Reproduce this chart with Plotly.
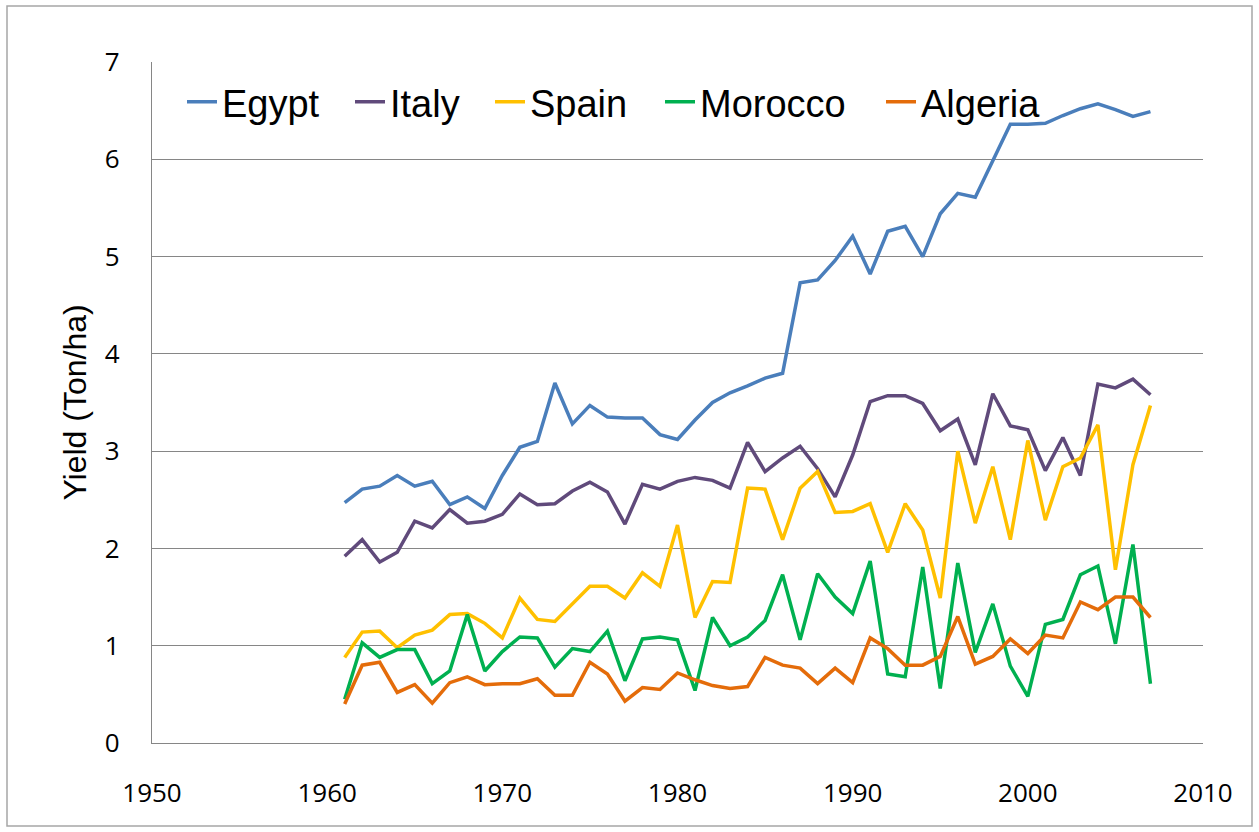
import plotly.graph_objects as go

years = list(range(1961, 2008))

egypt = [2.47, 2.61, 2.64, 2.75, 2.64, 2.69, 2.45, 2.53, 2.41, 2.75,
         3.04, 3.10, 3.70, 3.28, 3.47, 3.35, 3.34, 3.34, 3.17, 3.12,
         3.32, 3.50, 3.60, 3.67, 3.75, 3.80, 4.73, 4.76, 4.96, 5.21,
         4.82, 5.26, 5.31, 5.00, 5.44, 5.65, 5.61, 5.99, 6.36, 6.36,
         6.37, 6.45, 6.52, 6.57, 6.51, 6.44, 6.49]
italy = [1.92, 2.09, 1.86, 1.96, 2.28, 2.21, 2.40, 2.26, 2.28, 2.35,
         2.56, 2.45, 2.46, 2.59, 2.68, 2.58, 2.25, 2.66, 2.61, 2.69,
         2.73, 2.70, 2.62, 3.09, 2.79, 2.93, 3.05, 2.82, 2.53, 2.96,
         3.51, 3.57, 3.57, 3.49, 3.21, 3.33, 2.86, 3.59, 3.26, 3.22,
         2.80, 3.14, 2.75, 3.69, 3.65, 3.74, 3.58]
spain = [0.88, 1.14, 1.15, 0.98, 1.11, 1.16, 1.32, 1.33, 1.23, 1.08,
         1.49, 1.27, 1.25, 1.43, 1.61, 1.61, 1.49, 1.75, 1.61, 2.24,
         1.29, 1.66, 1.65, 2.62, 2.61, 2.09, 2.62, 2.79, 2.37, 2.38,
         2.46, 1.96, 2.46, 2.19, 1.49, 3.00, 2.26, 2.84, 2.09, 3.11,
         2.29, 2.84, 2.93, 3.27, 1.78, 2.86, 3.47]
morocco = [0.45, 1.03, 0.88, 0.96, 0.96, 0.61, 0.74, 1.32, 0.74, 0.94,
           1.09, 1.08, 0.78, 0.97, 0.94, 1.15, 0.64, 1.07, 1.09, 1.06,
           0.54, 1.29, 1.00, 1.09, 1.26, 1.73, 1.06, 1.74, 1.50, 1.33,
           1.87, 0.71, 0.68, 1.81, 0.56, 1.85, 0.93, 1.43, 0.79, 0.48,
           1.22, 1.27, 1.73, 1.82, 1.02, 2.04, 0.61]
algeria = [0.40, 0.80, 0.83, 0.52, 0.60, 0.41, 0.62, 0.68, 0.60, 0.61,
           0.61, 0.66, 0.49, 0.49, 0.83, 0.71, 0.43, 0.57, 0.55, 0.72,
           0.65, 0.59, 0.56, 0.58, 0.88, 0.80, 0.77, 0.61, 0.77, 0.62,
           1.08, 0.97, 0.80, 0.80, 0.89, 1.30, 0.81, 0.89, 1.07, 0.92,
           1.11, 1.08, 1.45, 1.37, 1.50, 1.50, 1.29]

series_names = ["Egypt", "Italy", "Spain", "Morocco", "Algeria"]
series_values = [egypt, italy, spain, morocco, algeria]
colors = ["#4A7EBB", "#604A7B", "#FFC000", "#00B050", "#E46C0A"]

x_ticks = [1950, 1960, 1970, 1980, 1990, 2000, 2010]
y_ticks = [0, 1, 2, 3, 4, 5, 6, 7]

# layout geometry (pixels)
W, H = 1259, 832
ML, MR, MT, MB = 152, 56, 62, 89
PW = W - ML - MR
PH = H - MT - MB
legend_px = [182, 350, 490, 660, 881]
legend_keys = ["legend", "legend2", "legend3", "legend4", "legend5"]

fig = go.Figure()
for name, vals, col, lk in zip(series_names, series_values, colors, legend_keys):
    fig.add_trace(go.Scatter(
        x=years, y=vals, name=name, mode="lines",
        line=dict(color=col, width=3.5),
        legend=lk,
    ))

leg_font = dict(family="Liberation Sans, Arial, sans-serif", size=38, color="#000000")
layout_legends = {}
for lk, px in zip(legend_keys, legend_px):
    layout_legends[lk] = dict(
        x=(px - ML) / PW, xanchor="left",
        y=(743 - 102) / PH, yanchor="middle",
        orientation="h", bgcolor="rgba(0,0,0,0)", borderwidth=0,
        font=leg_font,
    )

fig.update_layout(
    width=W, height=H,
    margin=dict(l=ML, r=MR, t=MT, b=MB, autoexpand=False),
    paper_bgcolor="white", plot_bgcolor="white",
    showlegend=True,
    **layout_legends,
    xaxis=dict(
        range=[1950, 2010], tickvals=x_ticks, ticktext=[str(v) for v in x_ticks],
        showgrid=False, zeroline=False, showline=True, linecolor="#868686", linewidth=1.3,
        ticks="", tickfont=dict(family="Open Sans, sans-serif", size=26, color="#000000"),
        ticklabelstandoff=27,
    ),
    yaxis=dict(
        range=[0, 7], tickvals=y_ticks,
        showgrid=True, gridcolor="#868686", gridwidth=1.3,
        zeroline=False, showline=True, linecolor="#868686", linewidth=1.3,
        ticks="", tickfont=dict(family="Open Sans, sans-serif", size=26, color="#000000"),
        ticklabelstandoff=26,
        title=dict(text="Yield (Ton/ha)", standoff=8,
                   font=dict(family="Liberation Sans, Arial, sans-serif", size=32, color="#000000")),
    ),
)

# outer chart border
fig.add_shape(type="rect", xref="paper", yref="paper",
              x0=(7 - ML) / PW, x1=(1252 - ML) / PW,
              y0=(743 - 826) / PH, y1=(743 - 6) / PH,
              line=dict(color="#A6A6A6", width=1.5), fillcolor="rgba(0,0,0,0)", layer="below")

fig.write_html("out.html",
               config={"displayModeBar": False},
               post_script="document.body.style.margin='0';document.body.style.padding='0';")
